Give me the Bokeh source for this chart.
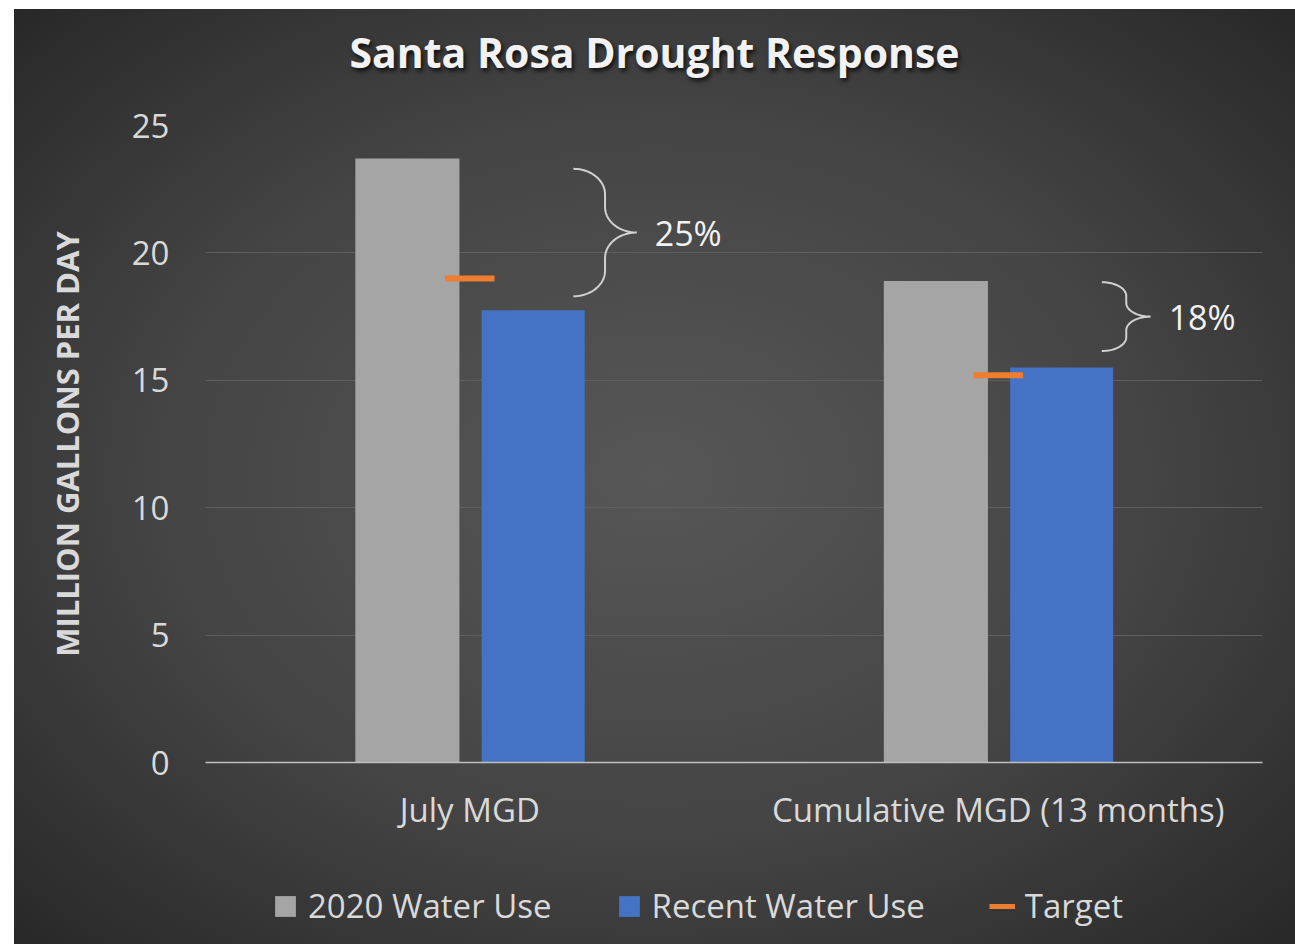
import numpy as np
from bokeh.plotting import figure
from bokeh.layouts import column
from bokeh.models import FixedTicker, Range1d, Legend, LegendItem, Div
from bokeh.embed import file_html
from bokeh.resources import INLINE
from bokeh.core.properties import value

# ---- data ----
title_text = "Santa Rosa Drought Response"
categories = ["July MGD", "Cumulative MGD (13 months)"]
use_2020 = [23.7, 18.9]
recent_use = [17.75, 15.5]
target = [19.0, 15.2]
reduction_labels = ["25%", "18%"]
brace_top = [23.3, 18.85]
brace_bottom = [18.3, 16.15]
y_ticks = [0, 5, 10, 15, 20, 25]
series_names = ["2020 Water Use", "Recent Water Use", "Target"]

FONT = "Open Sans"
TXT = "#d9d9d9"
GRAY = "#a5a5a5"
BLUE = "#4472c4"
ORANGE = "#ed7d31"

pos = np.arange(len(categories)) + 0.5

# ---- title strip ----
title_div = Div(
    text=('<div style="font-family:\'Open Sans\';font-size:41px;font-weight:bold;'
          'color:#f2f2f2;text-align:center;line-height:86px;width:1281px;'
          'text-shadow:2px 3px 4px rgba(0,0,0,0.75);">' + title_text + '</div>'),
    width=1281, height=90, margin=0)

# ---- main chart ----
p = figure(width=1281, height=761, x_range=Range1d(0, 2), y_range=Range1d(0, 25),
           title=None, output_backend="svg", toolbar_location=None,
           min_border_left=191, min_border_right=33, min_border_top=26, min_border_bottom=98)
p.background_fill_color = None
p.border_fill_color = None
p.outline_line_color = None

# y axis
p.yaxis.ticker = FixedTicker(ticks=y_ticks)
p.yaxis.axis_line_color = None
p.yaxis.major_tick_line_color = None
p.yaxis.minor_tick_line_color = None
p.yaxis.major_label_text_font = FONT
p.yaxis.major_label_text_font_size = "33px"
p.yaxis.major_label_text_color = TXT
p.yaxis.major_label_standoff = 30
p.yaxis.axis_label = "MILLION GALLONS PER DAY"
p.yaxis.axis_label_text_font = FONT
p.yaxis.axis_label_text_font_size = "31px"
p.yaxis.axis_label_text_font_style = "bold"
p.yaxis.axis_label_text_color = TXT
p.yaxis.axis_label_standoff = 41

# x axis
p.xaxis.ticker = FixedTicker(ticks=list(pos))
p.xaxis.major_label_overrides = {float(x): c for x, c in zip(pos, categories)}
p.xaxis.axis_line_color = "#bfbfbf"
p.xaxis.axis_line_width = 1.5
p.xaxis.major_tick_line_color = None
p.xaxis.minor_tick_line_color = None
p.xaxis.major_label_text_font = FONT
p.xaxis.major_label_text_font_size = "33px"
p.xaxis.major_label_text_color = TXT
p.xaxis.major_label_standoff = 18

p.xgrid.grid_line_color = None
p.ygrid.grid_line_color = "#5f5f5f"
p.ygrid.grid_line_width = 1

# bars
p.vbar(x=pos - 0.118, top=use_2020, width=0.197, fill_color=GRAY, line_color=None)
p.vbar(x=pos + 0.12, top=recent_use, width=0.195, fill_color=BLUE, line_color=None)
p.segment(x0=pos - 0.047, y0=target, x1=pos + 0.047, y1=target,
          line_color=ORANGE, line_width=6)

# braces
def brace(x_left, width, top, bottom, n=24):
    x_tip = x_left + width
    mid = (top + bottom) / 2
    xs_sp = (x_left + x_tip) / 2
    rx = xs_sp - x_left
    ry = 0.2 * (top - bottom)
    t = np.linspace(0, np.pi / 2, n)
    a1x = x_left + rx * np.sin(t)
    a1y = top - ry + ry * np.cos(t)
    a2x = xs_sp + rx - rx * np.cos(t)
    a2y = mid + ry - ry * np.sin(t)
    a3x = a2x[::-1]
    a3y = 2 * mid - a2y[::-1]
    a4x = a1x[::-1]
    a4y = 2 * mid - a1y[::-1]
    return (np.concatenate([a1x, a2x, a3x, a4x]).tolist(),
            np.concatenate([a1y, a2y, a3y, a4y]).tolist(), x_tip, mid)

bx, by, tx, ty = [], [], [], []
for i in range(len(categories)):
    span = brace_top[i] - brace_bottom[i]
    w = 0.06 + 0.012 * span
    xs, ys, xt, ym = brace(pos[i] + 0.196, w, brace_top[i], brace_bottom[i])
    bx.append(xs); by.append(ys); tx.append(xt + 0.034); ty.append(ym)
p.multi_line(xs=bx, ys=by, line_color="#d0d0d0", line_width=2)
p.text(x=tx, y=ty, text=reduction_labels, text_font=value(FONT), text_font_size="34px",
       text_baseline="middle", text_align="left", text_color="#f2f2f2")

# ---- legend strip (separate figure below the chart) ----
lf = figure(width=1281, height=84, x_range=Range1d(0, 1), y_range=Range1d(0, 1),
            output_backend="svg", toolbar_location=None,
            x_axis_location=None, y_axis_location=None,
            min_border_left=0, min_border_right=0, min_border_top=0, min_border_bottom=0)
lf.background_fill_color = None
lf.border_fill_color = None
lf.outline_line_color = None
lf.xgrid.grid_line_color = None
lf.ygrid.grid_line_color = None
# zero-size swatch glyphs, only used to draw the legend keys
l1 = lf.vbar(x=[0.5], bottom=[0], top=[0], width=0, fill_color=GRAY, line_color=None)
l2 = lf.vbar(x=[0.5], bottom=[0], top=[0], width=0, fill_color=BLUE, line_color=None)
l3 = lf.segment(x0=[0.5], y0=[0], x1=[0.5], y1=[0], line_color=ORANGE, line_width=5)

legend = Legend(items=[LegendItem(label=series_names[0], renderers=[l1]),
                       LegendItem(label=series_names[1], renderers=[l2]),
                       LegendItem(label=series_names[2], renderers=[l3])],
                orientation="horizontal", location=(67, 16))
legend.background_fill_alpha = 0
legend.border_line_color = None
legend.label_text_color = TXT
legend.label_text_font = FONT
legend.label_text_font_size = "33px"
legend.glyph_width = 26
legend.glyph_height = 26
legend.spacing = 64
legend.label_standoff = 10
legend.padding = 10
legend.margin = 0
lf.add_layout(legend)

layout = column(title_div, p, lf, spacing=0)
layout.margin = (9, 0, 0, 14)
layout.styles = {"background": "radial-gradient(ellipse at 50% 50%, #575757 0%, #444444 55%, #282828 100%)"}

open("out.html", "w").write(file_html(layout, INLINE))
